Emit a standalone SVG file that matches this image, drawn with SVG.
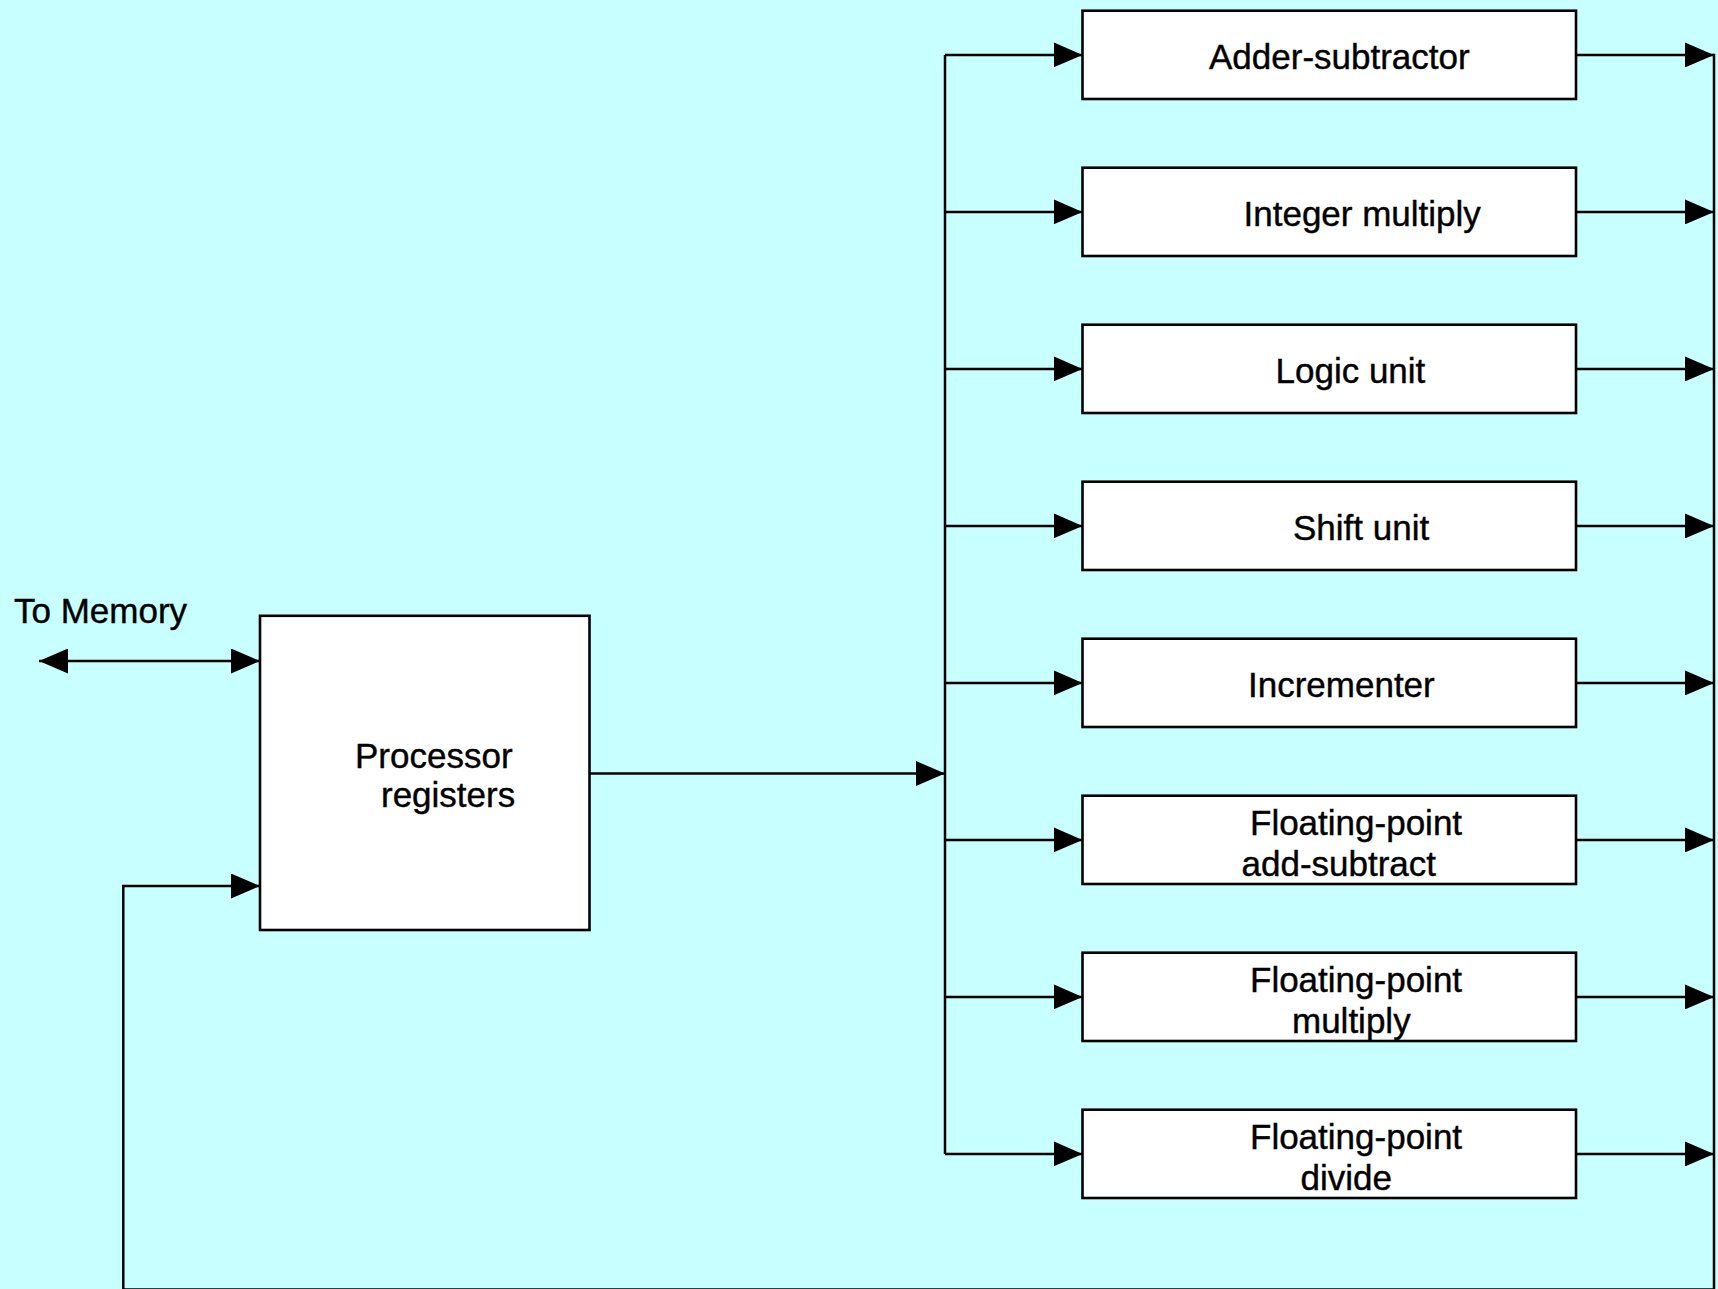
<svg xmlns="http://www.w3.org/2000/svg" width="1718" height="1289" viewBox="0 0 1718 1289">
  <style>
    .box { fill: #ffffff; stroke: #000000; stroke-width: 2.6; }
    .wire { fill: none; stroke: #000000; stroke-width: 2.5; }
    .lbl { font-family: "Liberation Sans", Arial, sans-serif; font-size: 35px; fill: #000000; stroke: #000000; stroke-width: 0.4; }
  </style>
  <defs>
    <marker id="arrow" markerUnits="userSpaceOnUse" markerWidth="29" markerHeight="25" refX="29" refY="12.5" orient="auto-start-reverse">
      <path d="M0,0 L29,12.5 L0,25 Z" fill="#000000"/>
    </marker>
  </defs>

  <rect x="0" y="0" width="1718" height="1289" fill="#c8ffff"/>

  <!-- connectors -->
  <g id="connectors">
    <!-- memory port (bidirectional) -->
    <line class="wire" x1="39" y1="661" x2="260" y2="661" marker-start="url(#arrow)" marker-end="url(#arrow)"/>
    <!-- registers to dispatch bus -->
    <line class="wire" x1="589.5" y1="773.5" x2="945" y2="773.5" marker-end="url(#arrow)"/>
    <!-- dispatch bus -->
    <line class="wire" x1="945" y1="54.9" x2="945" y2="1154"/>
    <!-- bus to each unit -->
    <line class="wire" x1="945" y1="54.9" x2="1082.5" y2="54.9" marker-end="url(#arrow)"/>
    <line class="wire" x1="945" y1="211.9" x2="1082.5" y2="211.9" marker-end="url(#arrow)"/>
    <line class="wire" x1="945" y1="368.9" x2="1082.5" y2="368.9" marker-end="url(#arrow)"/>
    <line class="wire" x1="945" y1="525.9" x2="1082.5" y2="525.9" marker-end="url(#arrow)"/>
    <line class="wire" x1="945" y1="682.9" x2="1082.5" y2="682.9" marker-end="url(#arrow)"/>
    <line class="wire" x1="945" y1="839.9" x2="1082.5" y2="839.9" marker-end="url(#arrow)"/>
    <line class="wire" x1="945" y1="996.9" x2="1082.5" y2="996.9" marker-end="url(#arrow)"/>
    <line class="wire" x1="945" y1="1153.9" x2="1082.5" y2="1153.9" marker-end="url(#arrow)"/>
    <!-- unit outputs to result bus -->
    <line class="wire" x1="1576" y1="54.9" x2="1714" y2="54.9" marker-end="url(#arrow)"/>
    <line class="wire" x1="1576" y1="211.9" x2="1714" y2="211.9" marker-end="url(#arrow)"/>
    <line class="wire" x1="1576" y1="368.9" x2="1714" y2="368.9" marker-end="url(#arrow)"/>
    <line class="wire" x1="1576" y1="525.9" x2="1714" y2="525.9" marker-end="url(#arrow)"/>
    <line class="wire" x1="1576" y1="682.9" x2="1714" y2="682.9" marker-end="url(#arrow)"/>
    <line class="wire" x1="1576" y1="839.9" x2="1714" y2="839.9" marker-end="url(#arrow)"/>
    <line class="wire" x1="1576" y1="996.9" x2="1714" y2="996.9" marker-end="url(#arrow)"/>
    <line class="wire" x1="1576" y1="1153.9" x2="1714" y2="1153.9" marker-end="url(#arrow)"/>
    <!-- result bus feeding back into the registers -->
    <path class="wire" d="M1714,53.7 V1289.6 H123.3 V886 H260" marker-end="url(#arrow)"/>
  </g>

  <g id="to-memory">
    <text class="lbl" x="14" y="623">To Memory</text>
  </g>

  <g id="processor-registers">
    <rect class="box" x="260" y="615.8" width="329.5" height="314.2"/>
    <text class="lbl" x="355" y="768">Processor</text>
    <text class="lbl" x="381" y="807">registers</text>
  </g>

  <g id="adder-subtractor">
    <rect class="box" x="1082.5" y="10.7" width="493.5" height="88.3"/>
    <text class="lbl" x="1209" y="69.3">Adder-subtractor</text>
  </g>

  <g id="integer-multiply">
    <rect class="box" x="1082.5" y="167.7" width="493.5" height="88.3"/>
    <text class="lbl" x="1243.5" y="226.3">Integer multiply</text>
  </g>

  <g id="logic-unit">
    <rect class="box" x="1082.5" y="324.7" width="493.5" height="88.3"/>
    <text class="lbl" x="1275.5" y="383.3">Logic unit</text>
  </g>

  <g id="shift-unit">
    <rect class="box" x="1082.5" y="481.7" width="493.5" height="88.3"/>
    <text class="lbl" x="1293" y="540.3">Shift unit</text>
  </g>

  <g id="incrementer">
    <rect class="box" x="1082.5" y="638.7" width="493.5" height="88.3"/>
    <text class="lbl" x="1248" y="697.3">Incrementer</text>
  </g>

  <g id="fp-add-subtract">
    <rect class="box" x="1082.5" y="795.7" width="493.5" height="88.3"/>
    <text class="lbl" x="1250" y="835">Floating-point</text>
    <text class="lbl" x="1241.5" y="876">add-subtract</text>
  </g>

  <g id="fp-multiply">
    <rect class="box" x="1082.5" y="952.7" width="493.5" height="88.3"/>
    <text class="lbl" x="1250" y="992">Floating-point</text>
    <text class="lbl" x="1292" y="1033">multiply</text>
  </g>

  <g id="fp-divide">
    <rect class="box" x="1082.5" y="1109.7" width="493.5" height="88.3"/>
    <text class="lbl" x="1250" y="1149">Floating-point</text>
    <text class="lbl" x="1300.5" y="1190">divide</text>
  </g>
</svg>
